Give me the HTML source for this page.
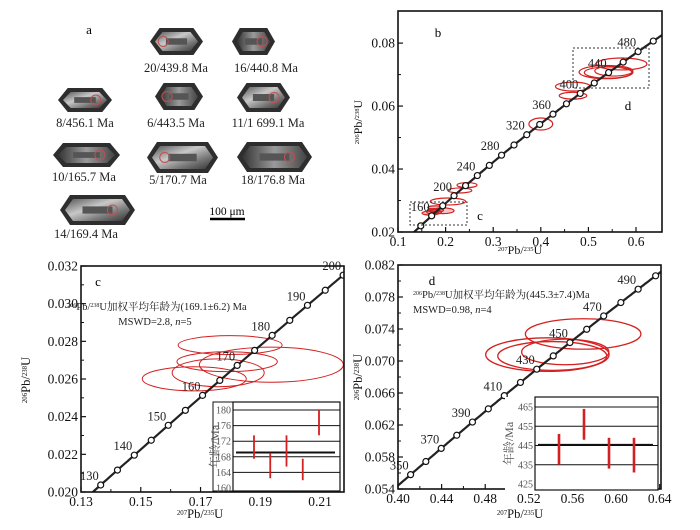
<!DOCTYPE html>
<html><head><meta charset="utf-8"><style>
html,body{margin:0;padding:0;background:#fff}
svg{display:block;font-family:"Liberation Serif","Noto Serif CJK SC","Noto Sans CJK SC",serif}
</style></head><body>
<svg id="fig" width="700" height="530" viewBox="0 0 700 530" xmlns="http://www.w3.org/2000/svg">
<defs>
<linearGradient id="zg" x1="0" y1="0" x2="1" y2="1"><stop offset="0" stop-color="#555"/><stop offset="0.4" stop-color="#c8c8c8"/><stop offset="0.7" stop-color="#777"/><stop offset="1" stop-color="#333"/></linearGradient>
<linearGradient id="zg2" x1="0" y1="0" x2="1" y2="0"><stop offset="0" stop-color="#333"/><stop offset="0.5" stop-color="#9a9a9a"/><stop offset="1" stop-color="#444"/></linearGradient>
</defs>
<g id="panelA"></g>
<g id="panelB"></g>
<g id="panelC"></g>
<g id="panelD"></g>
</svg>
<script>
// ---------- data ----------
const zirconLabels = ["20/439.8 Ma","16/440.8 Ma","8/456.1 Ma","6/443.5 Ma","11/1 699.1 Ma","10/165.7 Ma","5/170.7 Ma","18/176.8 Ma","14/169.4 Ma"];
const bAges = [140,160,180,200,220,240,260,280,300,320,340,360,380,400,420,440,460,480,500];
const bLabelAges = [160,200,240,280,320,360,400,440,480];
const cAges = [130,135,140,145,150,155,160,165,170,175,180,185,190,195,200];
const cLabelAges = [130,140,150,160,170,180,190,200];
const dAges = [350,360,370,380,390,400,410,420,430,440,450,460,470,480,490,500];
const dLabelAges = [350,370,390,410,430,450,470,490];
const cEllX = [0.1799,0.1937,0.1789,0.1759,0.1679];
const cEllY = [0.0278,0.02676,0.02692,0.02633,0.02601];
const cEllRx = [0.0174,0.0241,0.0168,0.0154,0.0174];
const cEllRy = [0.0005,0.00093,0.00053,0.00074,0.00064];
const dEllX = [0.5698,0.537,0.5415,0.5534];
const dEllY = [0.07338,0.0708,0.07063,0.07113];
const dEllRx = [0.053,0.0566,0.050,0.040];
const dEllRy = [0.0019,0.0021,0.0018,0.0016];
const bExtraX = [0.4676,0.4676,0.400,0.245,0.230,0.205];
const bExtraY = [0.0662,0.0633,0.0543,0.0349,0.0332,0.0297];
const bExtraRx = [0.0368,0.029,0.025,0.021,0.025,0.037];
const bExtraRy = [0.0014,0.0011,0.0019,0.0008,0.0008,0.0011];
const cBarLo = [167.5,162.5,165.5,162,173.5];
const cBarHi = [173.5,169,173.5,167.5,180];
const cMean = 169.1;
const cInsetTicks = [160,164,168,172,176,180];
const dBarLo = [435,448,433,431];
const dBarHi = [451,464,449,449];
const dMean = 445.3;
const dInsetTicks = [425,435,445,455,465];
const bXTicks = [0.1,0.2,0.3,0.4,0.5,0.6];
const bYTicks = [0.02,0.04,0.06,0.08];
const cXTicks = [0.13,0.15,0.17,0.19,0.21];
const cYTicks = [0.020,0.022,0.024,0.026,0.028,0.030,0.032];
const dXTicks = [0.40,0.44,0.48,0.52,0.56,0.60,0.64];
const dYTicks = [0.054,0.058,0.062,0.066,0.070,0.074,0.078,0.082];

// ---------- helpers ----------
const NS="http://www.w3.org/2000/svg";
function mk(parent,tag,attrs,text){const e=document.createElementNS(NS,tag);for(const k in attrs)e.setAttribute(k,attrs[k]);if(text!==undefined)e.textContent=text;parent.appendChild(e);return e;}
const L238=1.55125e-10, L235=9.8485e-10;
const cx207=t=>Math.exp(L235*t*1e6)-1;
const cy206=t=>Math.exp(L238*t*1e6)-1;
function scale(d0,d1,p0,p1){return v=>p0+(v-d0)/(d1-d0)*(p1-p0);}
function isoLabel(g,x,y,parts,size,anchor,rot){
  const t=mk(g,'text',{x:x,y:y,'font-size':size,'text-anchor':anchor||'middle',fill:'#111'});
  if(rot) t.setAttribute('transform',`rotate(-90 ${x} ${y})`);
  parts.forEach(p=>{mk(t,'tspan',p[1]?{'font-size':size*0.55,'baseline-shift':'super'}:{},p[0]);});
  return t;
}
function fmt(v,d){return v.toFixed(d);}

function drawPanel(g,o){
  const X=scale(o.xmin,o.xmax,o.L,o.R), Y=scale(o.ymin,o.ymax,o.B,o.T);
  const clipId='clip'+o.id;
  const cp=mk(g,'clipPath',{id:clipId}); mk(cp,'rect',{x:o.L,y:o.T,width:o.R-o.L,height:o.B-o.T});
  const plot=mk(g,'g',{'clip-path':`url(#${clipId})`});
  o.ells.forEach(E=>{for(let i=0;i<E.x.length;i++){
    const e=mk(plot,'ellipse',{cx:X(E.x[i]),cy:Y(E.y[i]),rx:Math.abs(X(E.x[i]+E.rx[i])-X(E.x[i])),ry:Math.abs(Y(E.y[i]+E.ry[i])-Y(E.y[i])),fill:E.fill||'none',stroke:'#d42020','stroke-width':E.sw||1.2});
    
    
  }});
  let pts=[];for(let t=o.tmin;t<=o.tmax;t+=1)pts.push(X(cx207(t)).toFixed(1)+','+Y(cy206(t)).toFixed(1));
  const cl=mk(plot,'polyline',{points:pts.join(' '),fill:'none',stroke:'#222','stroke-width':2.2});
  
  
  o.ages.forEach(a=>{const m=mk(plot,'circle',{cx:X(cx207(a)),cy:Y(cy206(a)),r:3,fill:'#fff',stroke:'#111','stroke-width':1.2});
    
    });
  o.labelAges.forEach(a=>{const t=mk(g,'text',{x:X(cx207(a))-2,y:Y(cy206(a))-5,'font-size':o.lfs,'text-anchor':'end',fill:'#222'},String(a));
    
    });
  const fr=mk(g,'rect',{x:o.L,y:o.T,width:o.R-o.L,height:o.B-o.T,fill:'none',stroke:'#111','stroke-width':1.6});
  
  
  o.xt.forEach((v,i)=>{const x=X(v);mk(g,'line',{x1:x,y1:o.B,x2:x,y2:o.B-5,stroke:'#111','stroke-width':1.2});
    const t=mk(g,'text',{x:x,y:o.B+14,'font-size':o.tfs,'text-anchor':'middle',fill:'#111'},fmt(v,o.xd));
    
    
    if(i<o.xt.length-1){const mx=X((v+o.xt[i+1])/2);mk(g,'line',{x1:mx,y1:o.B,x2:mx,y2:o.B-3,stroke:'#111'});}});
  o.yt.forEach((v,i)=>{const y=Y(v);mk(g,'line',{x1:o.L,y1:y,x2:o.L+5,y2:y,stroke:'#111','stroke-width':1.2});
    const t=mk(g,'text',{x:o.L-3,y:y+4.5,'font-size':o.tfs,'text-anchor':'end',fill:'#111'},fmt(v,o.yd));
    
    
    if(i<o.yt.length-1){const my=Y((v+o.yt[i+1])/2);mk(g,'line',{x1:o.L,y1:my,x2:o.L+3,y2:my,stroke:'#111'});}});
  const xl=isoLabel(g,o.xlx,o.xly,[["207",1],["Pb/",0],["235",1],["U",0]],o.afs,'middle');
   
  const yl=isoLabel(g,o.ylx,o.yly,[["206",1],["Pb/",0],["238",1],["U",0]],o.afs,'middle',true);
   
  return {X,Y};
}

function inset(g,o){
  const bg=mk(g,'rect',{x:o.OL,y:o.T,width:o.R-o.OL,height:o.B-o.T,fill:'#fff',stroke:o.outerStroke?'#111':'none'});
   
  const Y=scale(o.ymin,o.ymax,o.yB,o.yT);
  o.ticks.forEach(v=>{
    if(v!==o.ticks[0]) mk(g,'line',{x1:o.L,y1:Y(v),x2:o.R,y2:Y(v),stroke:'#111','stroke-width':1});
    const t=mk(g,'text',{x:o.L-2,y:Y(v)+3.5,'font-size':10,'text-anchor':'end',fill:'#555'},String(v));
     
  });
  mk(g,'rect',{x:o.L,y:o.T,width:o.R-o.L,height:o.B-o.T,fill:'none',stroke:'#111','stroke-width':1.2});
  const ml=mk(g,'line',{x1:o.L+3,y1:Y(o.mean),x2:o.R-5,y2:Y(o.mean),stroke:'#111','stroke-width':2});
   
  const n=o.lo.length, step=(o.R-o.L-o.pad*2)/(n-1);
  for(let i=0;i<n;i++){const x=o.L+o.pad+i*step;
    const b=mk(g,'line',{x1:x,y1:Y(o.lo[i]),x2:x,y2:Y(o.hi[i]),stroke:'#d42020','stroke-width':o.bw});
     }
  const yl=mk(g,'text',{x:o.ylx,y:(o.T+o.B)/2,'font-size':12,'text-anchor':'middle',fill:'#555',transform:`rotate(-90 ${o.ylx} ${(o.T+o.B)/2})`},'年龄/Ma');
   
}

// ---------- panel a ----------
(function(){
  const g=document.getElementById('panelA');
  const shapes=[[150,28,53,27],[232,28,43,27],[58,88,54,24],[155,83,48,27],[237,83,53,29],[53,143,67,24],[147,142,71,31],[237,142,75,30],[60,195,75,30]];
  const lab=[[176,72],[266,72],[85,127],[176,127],[268,127],[84,181],[178,184],[273,184],[86,238]];
  for(let i=0;i<shapes.length;i++){const [x,y,w,h]=shapes[i];
    const k=Math.min(10,w*0.18);
    const zg=mk(g,'g',{});  
    mk(zg,'polygon',{points:`${x+k},${y} ${x+w-k},${y} ${x+w},${y+h/2} ${x+w-k},${y+h} ${x+k},${y+h} ${x},${y+h/2}`,fill:'#2e2e2e'});
    mk(zg,'polygon',{points:`${x+k+3},${y+4} ${x+w-k-3},${y+4} ${x+w-5},${y+h/2} ${x+w-k-3},${y+h-4} ${x+k+3},${y+h-4} ${x+5},${y+h/2}`,fill:i%2?'url(#zg2)':'url(#zg)'});
    mk(zg,'rect',{x:x+w*0.3,y:y+h*0.38,width:w*0.4,height:h*0.24,fill:'#555'});
    mk(zg,'circle',{cx:x+w*(i%3===0?0.25:0.7),cy:y+h/2,r:5,fill:'none',stroke:'#c05050','stroke-width':1});
    const t=mk(g,'text',{x:lab[i][0],y:lab[i][1],'font-size':12.5,'text-anchor':'middle',fill:'#222'},zirconLabels[i]);
     
  }
  const a=mk(g,'text',{x:89,y:34,'font-size':13,'text-anchor':'middle'},'a');  
  const sb=mk(g,'line',{x1:210,y1:219,x2:245,y2:219,stroke:'#000','stroke-width':2.5});  
  const st=mk(g,'text',{x:227,y:215,'font-size':11.5,'text-anchor':'middle'},'100 μm');  
})();

// ---------- panel b ----------
(function(){
  const g=document.getElementById('panelB');
  drawPanel(g,{id:'b',L:398,R:662,T:11,B:232,xmin:0.1,xmax:0.6546,ymin:0.02,ymax:0.0902,tmin:90,tmax:530,
    ages:bAges,labelAges:bLabelAges,lfs:12.5,tfs:13.5,xt:bXTicks,yt:bYTicks,xd:1,yd:2,
    ells:[{x:cEllX,y:cEllY,rx:cEllRx,ry:cEllRy,fill:'rgba(220,30,30,0.25)'},{x:dEllX,y:dEllY,rx:dEllRx,ry:dEllRy},{x:bExtraX,y:bExtraY,rx:bExtraRx,ry:bExtraRy}],
    xlx:520,xly:254,ylx:362,yly:122,afs:12});
  const rc=mk(g,'rect',{x:410,y:202,width:57,height:23,fill:'none',stroke:'#333','stroke-dasharray':'2,2'});  
  const rd=mk(g,'rect',{x:573,y:48,width:76,height:40,fill:'none',stroke:'#333','stroke-dasharray':'2,2'});  
  [['b',438,37],['d',628,110],['c',480,220]].forEach(p=>{const t=mk(g,'text',{x:p[1],y:p[2],'font-size':13,'text-anchor':'middle'},p[0]);});
})();

// ---------- panel c ----------
(function(){
  const g=document.getElementById('panelC');
  drawPanel(g,{id:'c',L:81,R:344,T:266,B:492,xmin:0.13,xmax:0.2180,ymin:0.020,ymax:0.032,tmin:120,tmax:210,
    ages:cAges,labelAges:cLabelAges,lfs:12.5,tfs:13.5,xt:cXTicks,yt:cYTicks,xd:2,yd:3,
    ells:[{x:cEllX,y:cEllY,rx:cEllRx,ry:cEllRy,sw:1}],
    xlx:200,xly:518,ylx:30,yly:380,afs:12.5});
  const t1=mk(g,'text',{x:157,y:310,'font-size':10.5,'text-anchor':'middle',fill:'#222'});
   
  mk(t1,'tspan',{'font-size':6,'baseline-shift':'super'},'206');mk(t1,'tspan',{},'Pb/');mk(t1,'tspan',{'font-size':6,'baseline-shift':'super'},'238');mk(t1,'tspan',{},'U加权平均年龄为(169.1±6.2) Ma');
  const t2=mk(g,'text',{x:155,y:325,'font-size':10.5,'text-anchor':'middle',fill:'#222'});
   
  mk(t2,'tspan',{},'MSWD=2.8, ');mk(t2,'tspan',{'font-style':'italic'},'n');mk(t2,'tspan',{},'=5');
  const c=mk(g,'text',{x:98,y:286,'font-size':13,'text-anchor':'middle'},'c');
  const ig=mk(g,'g',{});  
  inset(ig,{OL:213,L:233,R:340,T:402,B:491,ymin:160,ymax:180,yB:488,yT:410,ticks:cInsetTicks,mean:cMean,lo:cBarLo,hi:cBarHi,pad:21,bw:1.8,ylx:219,outerStroke:true});
})();

// ---------- panel d ----------
(function(){
  const g=document.getElementById('panelD');
  drawPanel(g,{id:'d',L:398,R:661,T:265,B:489,xmin:0.40,xmax:0.6412,ymin:0.054,ymax:0.082,tmin:330,tmax:510,
    ages:dAges,labelAges:dLabelAges,lfs:12.5,tfs:13.5,xt:dXTicks,yt:dYTicks,xd:2,yd:3,
    ells:[{x:dEllX,y:dEllY,rx:dEllRx,ry:dEllRy,sw:1.3}],
    xlx:520,xly:518,ylx:362,yly:377,afs:12.5});
  const t1=mk(g,'text',{x:413,y:298,'font-size':10.5,'text-anchor':'start',fill:'#222'});
   
  mk(t1,'tspan',{'font-size':6,'baseline-shift':'super'},'206');mk(t1,'tspan',{},'Pb/');mk(t1,'tspan',{'font-size':6,'baseline-shift':'super'},'238');mk(t1,'tspan',{},'U加权平均年龄为(445.3±7.4)Ma');
  const t2=mk(g,'text',{x:413,y:313,'font-size':10.5,'text-anchor':'start',fill:'#222'});
   
  mk(t2,'tspan',{},'MSWD=0.98, ');mk(t2,'tspan',{'font-style':'italic'},'n');mk(t2,'tspan',{},'=4');
  const d=mk(g,'text',{x:432,y:285,'font-size':13,'text-anchor':'middle'},'d');
  const ig=mk(g,'g',{});  
  inset(ig,{OL:505,L:535,R:658,T:397,B:490,ymin:425,ymax:465,yB:484,yT:407,ticks:dInsetTicks,mean:dMean,lo:dBarLo,hi:dBarHi,pad:24,bw:2.6,ylx:513,outerStroke:false});
})();
</script>
</body></html>
